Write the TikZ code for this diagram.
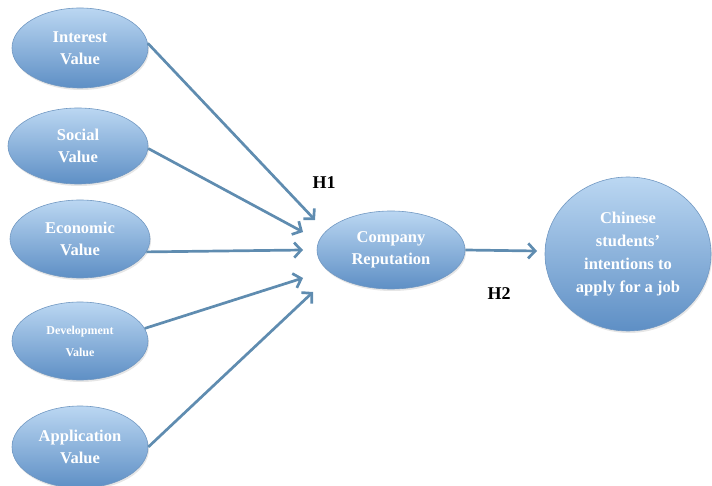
\documentclass[tikz,border=0pt]{standalone}
\usepackage{fontspec}
\setmainfont{Liberation Serif}
\usetikzlibrary{shapes.geometric,arrows.meta,shadows}
\definecolor{arrowblue}{HTML}{5F8CB0}
\definecolor{topblue}{HTML}{BBD7F2}
\definecolor{botblue}{HTML}{5E8FC5}
\definecolor{edgeblue}{HTML}{7198C2}
\tikzset{
  bubble/.style={ellipse, draw=edgeblue, line width=0.6pt, top color=topblue, bottom color=botblue,
    inner sep=0pt, align=center, text=white, font=\bfseries\fontsize{16.5}{22}\selectfont,
    drop shadow={shadow xshift=1pt, shadow yshift=-2pt, opacity=0.2}},
  link/.style={draw=arrowblue, line width=2.7pt, -{Straight Barb[length=7pt,width=15pt,line width=2.7pt]}},
  hlabel/.style={font=\bfseries\fontsize{18}{20}\selectfont, text=black}
}
\begin{document}
\begin{tikzpicture}[x=1pt,y=-1pt]
\useasboundingbox (0,0) rectangle (712,486);
\node[bubble, minimum width=136pt, minimum height=80pt] (interest) at (80,48) {Interest\\Value};
\node[bubble, minimum width=140pt, minimum height=76pt] (social) at (78,146) {Social\\Value};
\node[bubble, minimum width=140pt, minimum height=78pt] (economic) at (80,239) {Economic\\Value};
\node[bubble, minimum width=136pt, minimum height=78pt, font=\bfseries\fontsize{12}{22}\selectfont] (development) at (80,341) {Development\\Value};
\node[bubble, minimum width=136pt, minimum height=82pt] (application) at (80,447) {Application\\Value};
\node[bubble, minimum width=148pt, minimum height=78pt] (company) at (391,250) {Company\\Reputation};
\node[bubble, minimum width=166pt, minimum height=154pt, font=\bfseries\fontsize{16.5}{23}\selectfont] (chinese) at (628,254) {Chinese\\students'\\intentions to\\apply for a job};
\coordinate (e1) at (315,220);
\coordinate (e2) at (303,232);
\coordinate (e3) at (303,250);
\coordinate (e4) at (303,278);
\coordinate (e5) at (313,292);
\coordinate (e6) at (537,251);
\draw[link] (interest.4) -- (e1);
\draw[link] (social.-2) -- (e2);
\draw[link] (economic.-11) -- (e3);
\draw[link] (development.11) -- (e4);
\draw[link] (application.east) -- (e5);
\draw[link] (company.east) -- (e6);
\node[hlabel] (h1) at (324,183) {H1};
\node[hlabel] (h2) at (499,294) {H2};
\end{tikzpicture}
\end{document}
